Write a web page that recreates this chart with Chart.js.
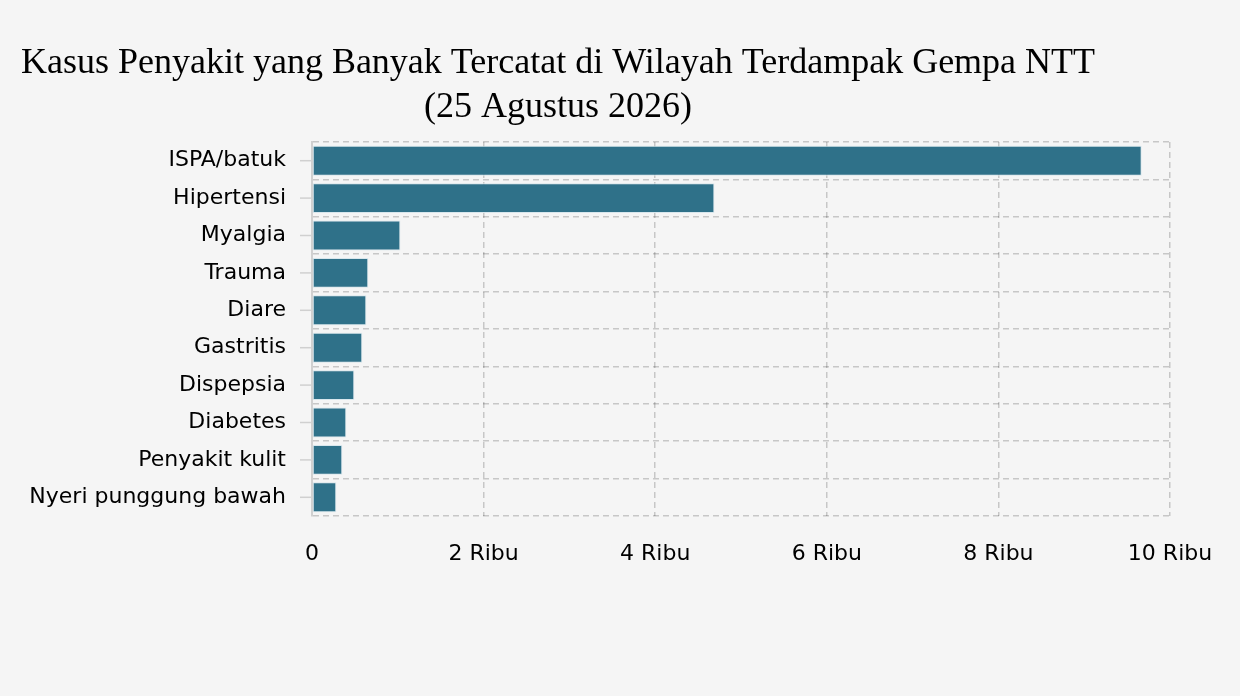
<!DOCTYPE html>
<html>
<head>
<meta charset="utf-8">
<script src="https://cdn.jsdelivr.net/npm/chart.js@4"></script>
<style>
  html, body { margin: 0; padding: 0; background: #f5f5f5; }
  #wrap { width: 1240px; height: 696px; }
</style>
</head>
<body>
<div id="wrap"><canvas id="chart"></canvas></div>
<script>
const titleLines = ['Kasus Penyakit yang Banyak Tercatat di Wilayah Terdampak Gempa NTT', '(25 Agustus 2026)'];
const categories = ['ISPA/batuk', 'Hipertensi', 'Myalgia', 'Trauma', 'Diare', 'Gastritis', 'Dispepsia', 'Diabetes', 'Penyakit kulit', 'Nyeri punggung bawah'];
const cases = [9670, 4690, 1030, 656, 633, 586, 493, 400, 353, 283];
const tickLabels = ['0', '2 Ribu', '4 Ribu', '6 Ribu', '8 Ribu', '10 Ribu'];

const gridColor = 'rgba(0,0,0,0.19)';
const labelFont = { family: '"DejaVu Sans", Verdana, sans-serif', size: 22 };

// title drawn by hand so it can sit off-centre like the original
const titlePlugin = {
    id: 'serifTitle',
    afterDraw(chart) {
        const ctx = chart.ctx;
        ctx.save();
        ctx.fillStyle = '#000';
        ctx.font = '36px "Liberation Serif", "Times New Roman", serif';
        ctx.textAlign = 'center';
        ctx.textBaseline = 'alphabetic';
        ctx.fillText(titleLines[0], 558, 73);
        ctx.fillText(titleLines[1], 558, 117);
        ctx.restore();
    }
};

// small tick marks at the middle of each category
const centerTicks = {
    id: 'centerTicks',
    afterDraw(chart) {
        const y = chart.scales.y;
        const ctx = chart.ctx;
        ctx.save();
        ctx.strokeStyle = '#d0d0d0';
        ctx.lineWidth = 1.5;
        y.ticks.forEach((t, i) => {
            const py = y.getPixelForTick(i);
            ctx.beginPath();
            ctx.moveTo(y.right - 12, py);
            ctx.lineTo(y.right, py);
            ctx.stroke();
        });
        ctx.restore();
    }
};

const ctx = document.getElementById('chart').getContext('2d');
new Chart(ctx, {
    type: 'bar',
    data: {
        labels: categories,
        datasets: [{
            data: cases,
            backgroundColor: '#2f7189',
            borderColor: 'rgba(215,230,236,0.95)',
            borderWidth: 1,
            borderSkipped: false,
            barPercentage: 0.8,
            categoryPercentage: 1.0
        }]
    },
    options: {
        indexAxis: 'y',
        responsive: true,
        maintainAspectRatio: false,
        animation: false,
        layout: { padding: { top: 142, right: 70, left: 0, bottom: 0 } },
        plugins: {
            legend: { display: false },
            title: { display: false },
            tooltip: { enabled: false }
        },
        scales: {
            x: {
                min: 0,
                max: 10000,
                z: 1,
                afterFit(scale) { scale.height = 180; },
                ticks: {
                    stepSize: 2000,
                    padding: 25,
                    color: '#000',
                    font: labelFont,
                    callback: (v, i) => tickLabels[i]
                },
                grid: {
                    color: gridColor,
                    drawTicks: false,
                    lineWidth: 1.5
                },
                border: { display: false, dash: [6, 4] }
            },
            y: {
                z: 1,
                afterFit(scale) { scale.width = 312; },
                ticks: {
                    padding: 26,
                    color: '#000',
                    font: labelFont
                },
                grid: {
                    offset: true,
                    color: gridColor,
                    drawTicks: false,
                    lineWidth: 1.5
                },
                border: { display: true, color: '#d0d0d0', width: 2, dash: [6, 4] }
            }
        }
    },
    plugins: [titlePlugin, centerTicks]
});
</script>
</body>
</html>
